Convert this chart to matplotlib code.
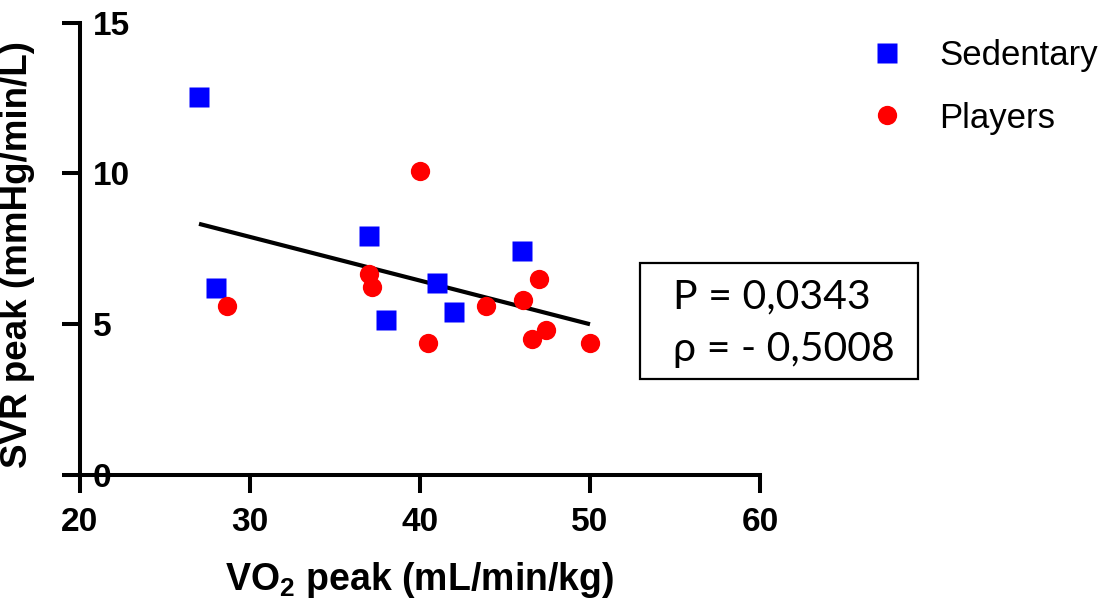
import matplotlib
matplotlib.use("Agg")
import matplotlib.pyplot as plt
from matplotlib.lines import Line2D
from matplotlib.patches import Rectangle

plt.rcParams['font.family'] = ['Liberation Sans', 'DejaVu Sans']
plt.rcParams['mathtext.fontset'] = 'custom'
plt.rcParams['mathtext.rm'] = 'Liberation Sans:bold'
plt.rcParams['mathtext.bf'] = 'Liberation Sans:bold'
plt.rcParams['mathtext.default'] = 'bf'

# Data
sed_x = [27, 28, 37, 38, 41, 42, 46]
sed_y = [12.55, 6.2, 7.93, 5.14, 6.37, 5.41, 7.43]
pla_x = [28.65, 40.0, 37.0, 37.18, 40.47, 43.9, 46.06, 47.0, 47.41, 46.6, 50.0]
pla_y = [5.61, 10.09, 6.67, 6.24, 4.38, 5.61, 5.81, 6.5, 4.81, 4.51, 4.38]
fit_x = [27.0, 50.0]
fit_y = [8.33, 5.0]
x_ticks = [20, 30, 40, 50, 60]
y_ticks = [0, 5, 10, 15]
stats_lines = ["P = 0,0343", "ρ = - 0,5008"]

W, H = 1113, 599
fig = plt.figure(figsize=(W / 100, H / 100), dpi=100)
ax = fig.add_axes([80 / W, (H - 475) / H, 680 / W, (475 - 22.7) / H])

ax.plot(fit_x, fit_y, color='black', lw=3.0, zorder=2, solid_capstyle='butt')
ax.plot(sed_x, sed_y, 's', color='#0000ff', ms=13.7, mec='none', zorder=3, label='Sedentary')
ax.plot(pla_x, pla_y, 'o', color='#ff0000', ms=13.9, mec='none', zorder=3, label='Players')

ax.set_xlim(20, 60)
ax.set_ylim(0, 15)
ax.set_xticks(x_ticks)
ax.set_yticks(y_ticks)
for s in ['top', 'right']:
    ax.spines[s].set_visible(False)
for s in ['left', 'bottom']:
    ax.spines[s].set_linewidth(2.9)
    ax.spines[s].set_capstyle('projecting')

ax.tick_params(axis='both', direction='out', length=13, width=2.9, labelsize=24)
ax.tick_params(axis='x', pad=10)
ax.tick_params(axis='y', pad=-22)
for lbl in ax.get_xticklabels() + ax.get_yticklabels():
    lbl.set_fontweight('bold')
for lbl in ax.get_yticklabels():
    lbl.set_horizontalalignment('left')

ax.set_ylabel('SVR peak (mmHg/min/L)', fontsize=26.5, fontweight='bold')
ax.yaxis.set_label_coords(-0.066, 0.487)
fig.text(420 / W, (H - 590) / H, 'VO$_2$ peak (mL/min/kg)', fontsize=27,
         fontweight='bold', ha='center', va='baseline')

leg = fig.legend(handles=[
    Line2D([], [], ls='none', marker='s', color='#0000ff', ms=13.7, mec='none'),
    Line2D([], [], ls='none', marker='o', color='#ff0000', ms=13.9, mec='none')],
    labels=['Sedentary', 'Players'], loc='upper left',
    bbox_to_anchor=(869.6 / W, (H - 39) / H), frameon=False, fontsize=25,
    handlelength=1.0, handletextpad=1.0, labelspacing=0.85, borderpad=0,
    borderaxespad=0)

# stats box
fig.patches.append(Rectangle((640 / W, (H - 379) / H), 278 / W, 116 / H,
                             transform=fig.transFigure, fill=False,
                             edgecolor='black', lw=1.6))
fig.text(673 / W, (H - 308) / H, stats_lines[0], fontsize=29.5, family='Lato',
         ha='left', va='baseline')
fig.text(673 / W, (H - 361) / H, stats_lines[1], fontsize=29.5, family='Lato',
         ha='left', va='baseline')

fig.savefig('out.png', dpi=100)
